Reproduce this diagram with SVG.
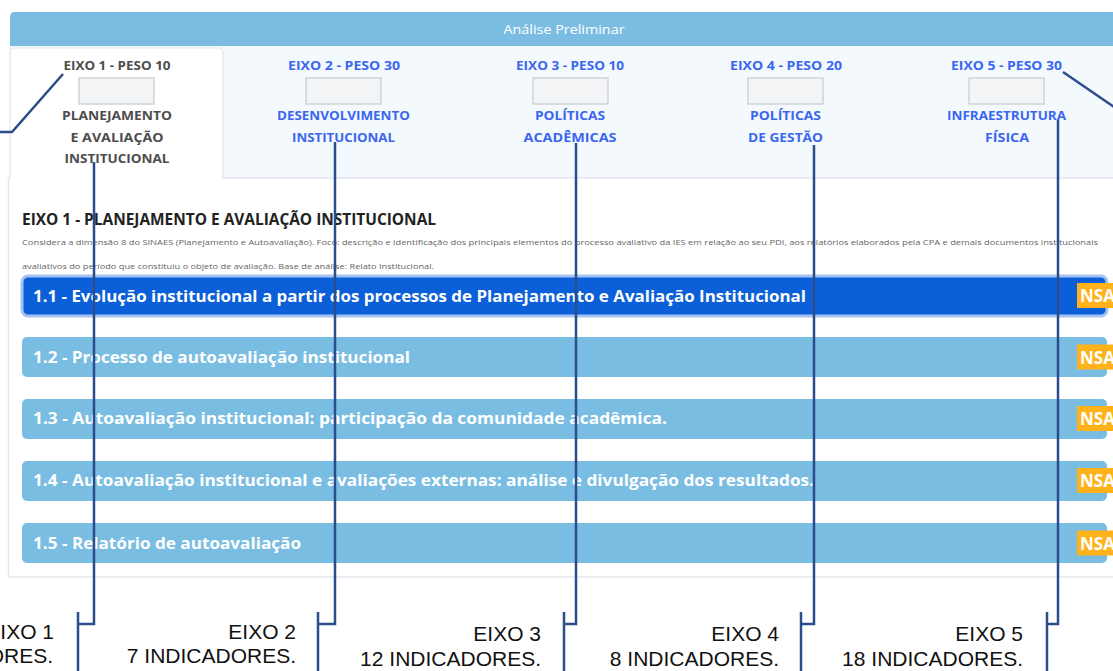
<svg xmlns="http://www.w3.org/2000/svg" width="1113" height="671" viewBox="0 0 1113 671">
<style>
.ui{font-family:"Open Sans","Noto Sans",sans-serif;font-weight:700}
.tab{font-size:13px;fill:#3a66f0;text-anchor:middle}
.tab1{fill:#4d4d4d}
.box{fill:#f2f4f6;stroke:#cfd3d6;stroke-width:1.5}
.bar{fill:#7abde2}
.bt{font-size:16px;fill:#ffffff}
.nsa{fill:#ffb21a}
.nt{font-size:17px;fill:#ffffff}
.desc{font-family:"Open Sans","Noto Sans",sans-serif;font-size:8px;fill:#666666}
.lbl{font-family:"Liberation Sans",Arial,sans-serif;font-size:21px;fill:#111111;text-anchor:end}
.conn{fill:none;stroke:#2c4d8c;stroke-width:2.5}
</style>
<rect x="0" y="0" width="1113" height="671" fill="#ffffff"/>

<g id="header">
  <path d="M10,46 V17 Q10,12 15,12 H1113 V46 Z" fill="#7bbde2"/>
  <text x="564" y="34" font-family="'Open Sans','Noto Sans',sans-serif" font-size="13" fill="#ffffff" text-anchor="middle" textLength="121" lengthAdjust="spacingAndGlyphs">Análise Preliminar</text>
</g>

<g id="tabstrip">
  <rect x="10" y="46" width="1103" height="132" fill="#f3f9fd"/>
</g>

<g id="panel">
  <rect x="8.5" y="178" width="1110" height="399" fill="#ffffff" stroke="#e2e8ee" stroke-width="1.5"/>
</g>

<g id="tab1">
  <path d="M10,179 V52 Q10,48 14,48 H219 Q223,48 223,52 V179" fill="#ffffff" stroke="#e2e7eb" stroke-width="1.2"/>
  <text class="ui tab tab1" x="117" y="70" textLength="107" lengthAdjust="spacingAndGlyphs">EIXO 1 - PESO 10</text>
  <rect class="box" x="79" y="78" width="75" height="26"/>
  <text class="ui tab tab1" x="117" y="120" textLength="110" lengthAdjust="spacingAndGlyphs">PLANEJAMENTO</text>
  <text class="ui tab tab1" x="117" y="142" textLength="93" lengthAdjust="spacingAndGlyphs">E AVALIAÇÃO</text>
  <text class="ui tab tab1" x="117" y="163" textLength="105" lengthAdjust="spacingAndGlyphs">INSTITUCIONAL</text>
</g>

<g id="tab2">
  <text class="ui tab" x="344" y="70" textLength="112" lengthAdjust="spacingAndGlyphs">EIXO 2 - PESO 30</text>
  <rect class="box" x="306" y="78" width="75" height="26"/>
  <text class="ui tab" x="343.5" y="120" textLength="133" lengthAdjust="spacingAndGlyphs">DESENVOLVIMENTO</text>
  <text class="ui tab" x="343.5" y="142" textLength="103" lengthAdjust="spacingAndGlyphs">INSTITUCIONAL</text>
</g>

<g id="tab3">
  <text class="ui tab" x="570" y="70" textLength="108" lengthAdjust="spacingAndGlyphs">EIXO 3 - PESO 10</text>
  <rect class="box" x="533" y="78" width="75" height="26"/>
  <text class="ui tab" x="570" y="120" textLength="70" lengthAdjust="spacingAndGlyphs">POLÍTICAS</text>
  <text class="ui tab" x="570" y="142" textLength="93" lengthAdjust="spacingAndGlyphs">ACADÊMICAS</text>
</g>

<g id="tab4">
  <text class="ui tab" x="786" y="70" textLength="112" lengthAdjust="spacingAndGlyphs">EIXO 4 - PESO 20</text>
  <rect class="box" x="748" y="78" width="75" height="26"/>
  <text class="ui tab" x="785.5" y="120" textLength="71" lengthAdjust="spacingAndGlyphs">POLÍTICAS</text>
  <text class="ui tab" x="785.5" y="142" textLength="75" lengthAdjust="spacingAndGlyphs">DE GESTÃO</text>
</g>

<g id="tab5">
  <text class="ui tab" x="1006.5" y="70" textLength="111" lengthAdjust="spacingAndGlyphs">EIXO 5 - PESO 30</text>
  <rect class="box" x="969" y="78" width="75" height="26"/>
  <text class="ui tab" x="1006.5" y="120" textLength="119" lengthAdjust="spacingAndGlyphs">INFRAESTRUTURA</text>
  <text class="ui tab" x="1007" y="142" textLength="44" lengthAdjust="spacingAndGlyphs">FÍSICA</text>
</g>

<g id="title">
  <text class="ui" x="22" y="225" font-size="16" fill="#222222" textLength="414" lengthAdjust="spacingAndGlyphs">EIXO 1 - PLANEJAMENTO E AVALIAÇÃO INSTITUCIONAL</text>
  <text class="desc" x="22" y="245" textLength="1076" lengthAdjust="spacingAndGlyphs">Considera a dimensão 8 do SINAES (Planejamento e Autoavaliação). Foco: descrição e identificação dos principais elementos do processo avaliativo da IES em relação ao seu PDI, aos relatórios elaborados pela CPA e demais documentos institucionais</text>
  <text class="desc" x="22" y="269" textLength="412" lengthAdjust="spacingAndGlyphs">avaliativos do período que constituiu o objeto de avaliação. Base de análise: Relato Institucional.</text>
</g>

<g id="item1_1">
  <rect x="22" y="276" width="1085" height="40" rx="6" fill="#0b5fd8" stroke="#a3c4f3" stroke-width="3"/>
  <text class="ui bt" x="33" y="301.5" textLength="773" lengthAdjust="spacingAndGlyphs">1.1 - Evolução institucional a partir dos processos de Planejamento e Avaliação Institucional</text>
  <rect class="nsa" x="1077" y="283" width="40" height="25"/>
  <text class="ui nt" x="1080" y="302">NSA</text>
</g>

<g id="item1_2">
  <rect class="bar" x="22" y="337" width="1085" height="40" rx="5"/>
  <text class="ui bt" x="33" y="362.5" textLength="377" lengthAdjust="spacingAndGlyphs">1.2 - Processo de autoavaliação institucional</text>
  <rect class="nsa" x="1077" y="344.5" width="40" height="25"/>
  <text class="ui nt" x="1080" y="363.5">NSA</text>
</g>

<g id="item1_3">
  <rect class="bar" x="22" y="399" width="1085" height="40" rx="5"/>
  <text class="ui bt" x="33" y="424" textLength="634" lengthAdjust="spacingAndGlyphs">1.3 - Autoavaliação institucional: participação da comunidade acadêmica.</text>
  <rect class="nsa" x="1077" y="406" width="40" height="25"/>
  <text class="ui nt" x="1080" y="425">NSA</text>
</g>

<g id="item1_4">
  <rect class="bar" x="22" y="461" width="1085" height="40" rx="5"/>
  <text class="ui bt" x="33" y="486" textLength="781" lengthAdjust="spacingAndGlyphs">1.4 - Autoavaliação institucional e avaliações externas: análise e divulgação dos resultados.</text>
  <rect class="nsa" x="1077" y="468" width="40" height="25"/>
  <text class="ui nt" x="1080" y="487">NSA</text>
</g>

<g id="item1_5">
  <rect class="bar" x="22" y="523" width="1085" height="40" rx="5"/>
  <text class="ui bt" x="33" y="548.5" textLength="268" lengthAdjust="spacingAndGlyphs">1.5 - Relatório de autoavaliação</text>
  <rect class="nsa" x="1077" y="530.5" width="40" height="25"/>
  <text class="ui nt" x="1080" y="549.5">NSA</text>
</g>

<g id="label1">
  <text class="lbl" x="54" y="639">EIXO 1</text>
  <text class="lbl" x="53" y="663">INDICADORES.</text>
</g>
<g id="label2">
  <text class="lbl" x="296" y="639">EIXO 2</text>
  <text class="lbl" x="296" y="663">7 INDICADORES.</text>
</g>
<g id="label3">
  <text class="lbl" x="541" y="641">EIXO 3</text>
  <text class="lbl" x="541" y="666">12 INDICADORES.</text>
</g>
<g id="label4">
  <text class="lbl" x="779" y="641">EIXO 4</text>
  <text class="lbl" x="779" y="666">8 INDICADORES.</text>
</g>
<g id="label5">
  <text class="lbl" x="1023" y="641">EIXO 5</text>
  <text class="lbl" x="1023" y="666">18 INDICADORES.</text>
</g>

<g id="connectors" class="conn">
  <path d="M63,74 L12,132 H-2"/>
  <path d="M1063,72 L1120,111"/>
  <path d="M94,162 V624 H78"/>
  <path d="M78,612 V673"/>
  <path d="M335,142 V624 H318"/>
  <path d="M318,612 V673"/>
  <path d="M576,143 V624 H564"/>
  <path d="M564,612 V673"/>
  <path d="M814,145 V624 H801"/>
  <path d="M801,612 V673"/>
  <path d="M1058,120 V624 H1047"/>
  <path d="M1047,612 V673"/>
</g>
</svg>
